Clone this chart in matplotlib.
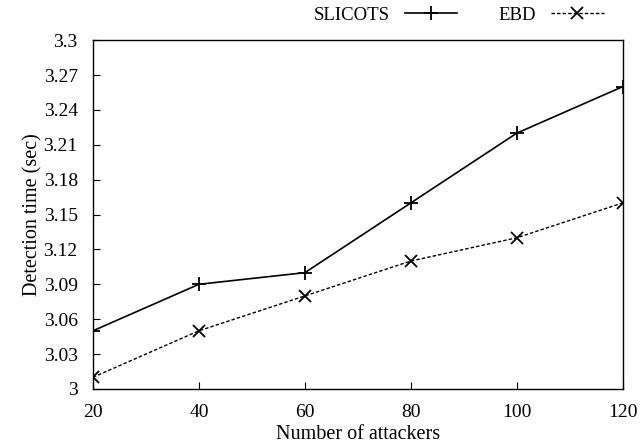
import matplotlib
matplotlib.use("Agg")
import matplotlib.pyplot as plt

attackers = [20, 40, 60, 80, 100, 120]
slicots = [3.05, 3.09, 3.10, 3.16, 3.22, 3.26]
ebd = [3.01, 3.05, 3.08, 3.11, 3.13, 3.16]
yticks = [3.0, 3.03, 3.06, 3.09, 3.12, 3.15, 3.18, 3.21, 3.24, 3.27, 3.3]
ytick_labels = ["3", "3.03", "3.06", "3.09", "3.12", "3.15", "3.18", "3.21", "3.24", "3.27", "3.3"]

plt.rcParams['font.family'] = ['Liberation Serif', 'DejaVu Serif']

fig = plt.figure(figsize=(6.44, 4.46), dpi=100)
ax = fig.add_axes([0.1444, 0.128, 0.8226, 0.782])

ax.plot(attackers, slicots, color='black', linestyle='-', linewidth=1.2,
        marker='+', markersize=10, markeredgewidth=1.3, label='SLICOTS')
ax.plot(attackers, ebd, color='black', linestyle=(0, (2.5, 1.5)), linewidth=1.0,
        marker='x', markersize=9, markeredgewidth=1.3, label='EBD')

ax.set_xlim(20, 120)
ax.set_ylim(3.0, 3.3)
ax.set_xticks(attackers)
ax.set_yticks(yticks)
ax.set_yticklabels(ytick_labels)
ax.tick_params(direction='in', labelsize=14, length=5, top=False, right=False)
ax.tick_params(axis='x', pad=11)
ax.tick_params(axis='y', pad=11)
ax.set_xlabel('Number of attackers', fontsize=14.5, labelpad=3)
ax.set_ylabel('Detection time (sec)', fontsize=14.5, labelpad=1)
for s in ax.spines.values():
    s.set_linewidth(1.0)

ax.legend(loc='lower right', bbox_to_anchor=(0.985, 1.015), ncol=2, frameon=False,
          markerfirst=False, fontsize=13.5, handlelength=2.8, columnspacing=2.2,
          borderaxespad=0.2)

fig.savefig('out.png', dpi=100)
